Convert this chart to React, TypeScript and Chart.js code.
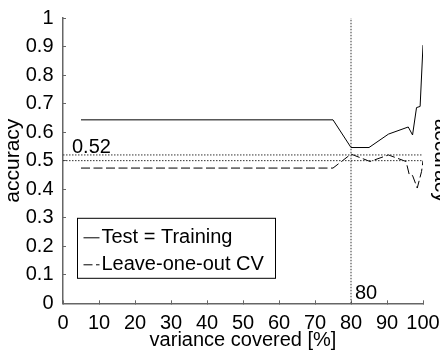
import React, { useEffect, useRef } from "react";
import { Chart, registerables } from "chart.js";

Chart.register(...registerables);

// ---- data ----
const trainX = [5, 75, 80, 85, 90.4, 95.9, 97.1, 98.2, 99.2, 100];
const trainY = [0.643, 0.643, 0.546, 0.546, 0.593, 0.618, 0.59, 0.686, 0.69, 0.905];
const looX = [5, 75, 80, 85.3, 90.4, 95.3, 96.2, 97.1, 98.4, 99.6, 100];
const looY = [0.474, 0.474, 0.523, 0.497, 0.52, 0.497, 0.45, 0.448, 0.404, 0.462, 0.5];
const seriesLabels = ["Test = Training", "Leave-one-out CV"];
const refLevels = [0.52, 0.5];
const cutoffX = 80;
const xTicks = [0, 10, 20, 30, 40, 50, 60, 70, 80, 90, 100];
const yTicks = [0, 0.1, 0.2, 0.3, 0.4, 0.5, 0.6, 0.7, 0.8, 0.9, 1];
const xTitle = "variance covered [%]";
const yTitle = "accuracy";
const refText = "0.52";
const cutText = "80";

const FONT = '"Liberation Sans", Arial, Helvetica, sans-serif';
const AXIS_COLOR = "#666";
const solidDash: number[] = [];
const dashedDash = [9, 3.5];
const dottedDash = [1.5, 1.5];

const toPts = (xs: number[], ys: number[]) => xs.map((x, i) => ({ x, y: ys[i] }));

const annotPlugin = {
  id: "annot",
  afterDatasetsDraw(chart: any) {
    const { ctx, chartArea, scales } = chart;
    const xs = scales.x;
    const ys = scales.y;
    ctx.save();
    ctx.font = `20px ${FONT}`;
    ctx.fillStyle = "#000";
    ctx.textAlign = "left";
    ctx.textBaseline = "alphabetic";
    ctx.fillText(refText, xs.getPixelForValue(2.5), ys.getPixelForValue(refLevels[0]) - 2);
    ctx.fillText(cutText, xs.getPixelForValue(cutoffX) + 4, ys.getPixelForValue(0) - 4);

    // legend box
    const bx = chartArea.left + 14.5;
    const by = chartArea.bottom - 85;
    const bw = 198;
    const bh = 60;
    ctx.fillStyle = "#fff";
    ctx.fillRect(bx, by, bw, bh);
    ctx.strokeStyle = "#000";
    ctx.lineWidth = 1;
    ctx.setLineDash([]);
    ctx.strokeRect(bx, by, bw, bh);
    const dashes = [solidDash, dashedDash];
    const baselines = [by + 25, by + 52];
    seriesLabels.forEach((lab, i) => {
      const ly = baselines[i] - 5.5;
      ctx.beginPath();
      ctx.setLineDash(dashes[i]);
      ctx.strokeStyle = "#000";
      ctx.moveTo(bx + 6, ly);
      ctx.lineTo(bx + 22, ly);
      ctx.stroke();
      ctx.setLineDash([]);
      ctx.fillStyle = "#000";
      ctx.fillText(lab, bx + 24, baselines[i]);
    });
    ctx.restore();
  },
};

export default function App() {
  const ref = useRef<HTMLCanvasElement | null>(null);
  useEffect(() => {
    if (!ref.current) return;
    const lineCommon = { pointRadius: 0, borderWidth: 1, fill: false, tension: 0 };
    const chart = new Chart(ref.current, {
      type: "line",
      data: {
        datasets: [
          {
            ...lineCommon,
            label: "ref052",
            data: [{ x: 0, y: refLevels[0] }, { x: 100, y: refLevels[0] }],
            borderColor: "#333",
            borderDash: dottedDash,
          },
          {
            ...lineCommon,
            label: "ref050",
            data: [{ x: 0, y: refLevels[1] }, { x: 100, y: refLevels[1] }],
            borderColor: "#333",
            borderDash: dottedDash,
          },
          {
            ...lineCommon,
            label: "cut",
            data: [{ x: cutoffX, y: 0 }, { x: cutoffX, y: 1 }],
            borderColor: "#333",
            borderDash: dottedDash,
          },
          {
            ...lineCommon,
            label: seriesLabels[0],
            data: toPts(trainX, trainY),
            borderColor: "#000",
            borderDash: solidDash,
          },
          {
            ...lineCommon,
            label: seriesLabels[1],
            data: toPts(looX, looY),
            borderColor: "#000",
            borderDash: dashedDash,
          },
        ],
      },
      options: {
        responsive: false,
        animation: false,
        parsing: false as any,
        layout: { padding: { top: 18, right: 0, bottom: 0, left: 0 } },
        plugins: { legend: { display: false }, tooltip: { enabled: false } },
        font: { family: FONT },
        scales: {
          x: {
            type: "linear",
            position: "bottom",
            min: 0,
            max: 100,
            afterBuildTicks: (s: any) => {
              s.ticks = xTicks.map((v) => ({ value: v }));
            },
            afterFit: (s: any) => {
              s.height = 46.7;
              s.paddingLeft = 0;
              s.paddingRight = 0;
            },
            ticks: {
              color: "#000",
              font: { family: FONT, size: 20 },
              padding: 11,
              maxRotation: 0,
              autoSkip: false,
              callback: (v: any) => String(v),
            },
            grid: {
              drawOnChartArea: false,
              tickLength: -3,
              color: AXIS_COLOR,
              lineWidth: 1,
            },
            border: { display: true, color: AXIS_COLOR, width: 1.5 },
            title: {
              display: true,
              text: xTitle,
              color: "#000",
              font: { family: FONT, size: 20, lineHeight: 1 },
              padding: 0,
            },
          },
          y: {
            type: "linear",
            position: "left",
            min: 0,
            max: 1,
            afterBuildTicks: (s: any) => {
              s.ticks = yTicks.map((v) => ({ value: v }));
            },
            afterFit: (s: any) => {
              s.width = 63;
              s.paddingTop = 0;
              s.paddingBottom = 0;
            },
            ticks: {
              color: "#000",
              font: { family: FONT, size: 20 },
              padding: 12.5,
              autoSkip: false,
              callback: (v: any) => String(Math.round(Number(v) * 10) / 10),
            },
            grid: {
              drawOnChartArea: false,
              tickLength: -3,
              color: AXIS_COLOR,
              lineWidth: 1,
            },
            border: { display: true, color: AXIS_COLOR, width: 1.5 },
            title: {
              display: true,
              text: yTitle,
              color: "#000",
              font: { family: FONT, size: 21, lineHeight: 1 },
              padding: { top: 3, bottom: 0 },
            },
          },
          y2: {
            type: "linear",
            position: "right",
            min: 0,
            max: 1,
            afterFit: (s: any) => {
              s.width = 17;
              s.paddingTop = 0;
              s.paddingBottom = 0;
            },
            ticks: { display: false },
            grid: { display: false, drawTicks: false },
            border: { display: false },
            title: {
              display: true,
              text: yTitle,
              color: "#000",
              font: { family: FONT, size: 21, lineHeight: 1 },
              padding: { top: -11.5, bottom: 0 },
            },
          },
        },
      },
      plugins: [annotPlugin],
    } as any);
    return () => chart.destroy();
  }, []);
  return (
    <div style={{ position: "absolute", left: 0, top: 0, width: 440, height: 350 }}>
      <canvas ref={ref} width={440} height={350} style={{ display: "block" }} />
    </div>
  );
}
